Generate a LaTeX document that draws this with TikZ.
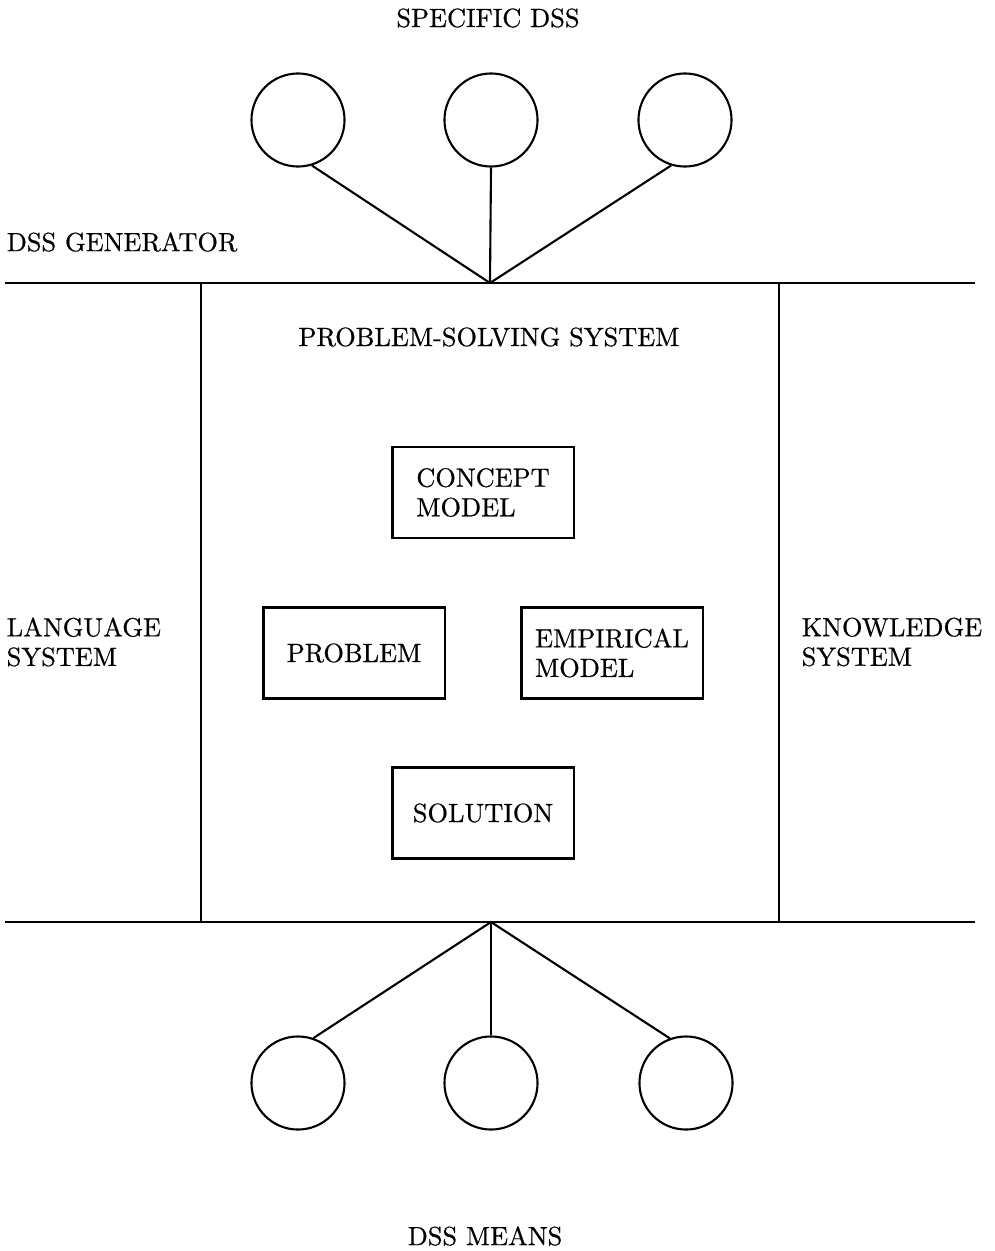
\documentclass[tikz,border=0pt]{standalone}
\usepackage{fontspec}
\setmainfont{lmroman10-regular.otf}[RawFeature={embolden=0.6}]
\begin{document}
\begin{tikzpicture}[x=0.01cm,y=-0.01cm,
  every node/.style={font=\fontsize{7.5}{8.4}\selectfont},
  lbl/.style={inner sep=0pt},
  blk/.style={draw, line width=0.6pt, minimum width=1.81cm, minimum height=0.91cm, align=left, inner sep=0pt},
  ball/.style={draw, circle, line width=0.6pt, minimum size=0.93cm, inner sep=0pt},
  rule/.style={line width=0.65pt},
  wall/.style={line width=0.4pt},
  spoke/.style={line width=0.6pt}]
\useasboundingbox (0,0) rectangle (995,1251);

% layer titles
\node[lbl] (specific) at (488,18) {SPECIFIC DSS};
\node[lbl, anchor=west] (generator) at (6,242) {DSS GENERATOR};
\node[lbl] (pss) at (489,337) {PROBLEM-SOLVING SYSTEM};
\node[lbl, anchor=west, align=left] (lang) at (6,642) {LANGUAGE\\SYSTEM};
\node[lbl, anchor=west, align=left] (know) at (801,642) {KNOWLEDGE\\SYSTEM};
\node[lbl] (means) at (485,1236) {DSS MEANS};

% generator frame
\coordinate (tl) at (5,283);
\coordinate (tr) at (975,283);
\coordinate (bl) at (5,922);
\coordinate (br) at (975,922);
\coordinate (lt) at (201,283);
\coordinate (lb) at (201,922);
\coordinate (rt) at (779,283);
\coordinate (rb) at (779,922);
\coordinate (topapex) at (490,283);
\coordinate (botapex) at (491,922);
\draw[rule] (tl) -- (tr);
\draw[rule] (bl) -- (br);
\draw[wall] (lt) -- (lb);
\draw[wall] (rt) -- (rb);

% problem-solving components
\node[blk] (concept) at (483,492.5) {CONCEPT\\MODEL};
\node[blk] (problem) at (354,653) {PROBLEM};
\node[blk] (empirical) at (612,653) {EMPIRICAL\\MODEL};
\node[blk] (solution) at (483,813) {SOLUTION};

% specific DSS
\node[ball] (s1) at (298,120) {};
\node[ball] (s2) at (491,120) {};
\node[ball] (s3) at (685,120) {};
\draw[spoke] (s1.-73) -- (topapex);
\draw[spoke] (s2.south) -- (topapex);
\draw[spoke] (s3.-107) -- (topapex);

% DSS means
\node[ball] (m1) at (298,1083) {};
\node[ball] (m2) at (491,1083) {};
\node[ball] (m3) at (686,1083) {};
\draw[spoke] (botapex) -- (m1.71);
\draw[spoke] (botapex) -- (m2.north);
\draw[spoke] (botapex) -- (m3.110);
\end{tikzpicture}
\end{document}
